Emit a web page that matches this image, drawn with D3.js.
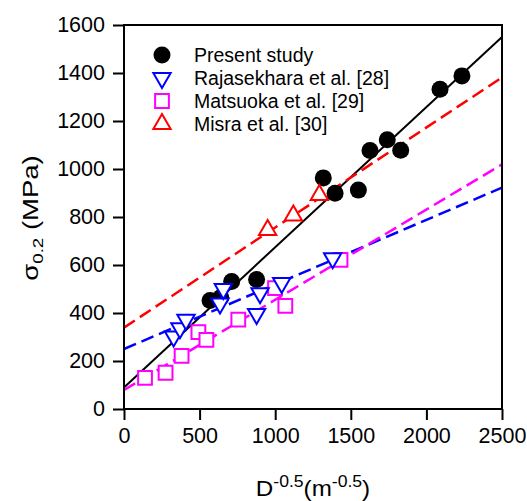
<!DOCTYPE html>
<html>
<head>
<meta charset="utf-8">
<script src="https://cdn.jsdelivr.net/npm/d3@7"></script>
<style>
  body { margin: 0; background: #fff; }
  text { font-family: "Liberation Sans", Arial, sans-serif; }
</style>
</head>
<body>
<svg id="chart" width="527" height="501"></svg>
<script>
// values
const presentX = [569, 640, 712, 877, 1318, 1396, 1550, 1627, 1741, 1830, 2090, 2235];
const presentY = [452, 465, 531, 540, 963, 899, 912, 1077, 1122, 1078, 1332, 1388];
const rajaX = [328, 370, 410, 635, 657, 877, 900, 1043, 1380];
const rajaY = [302, 336, 372, 440, 500, 396, 482, 525, 628];
const matsX = [139, 275, 381, 492, 545, 756, 999, 1067, 1432];
const matsY = [130, 151, 221, 320, 288, 372, 504, 430, 621];
const misraX = [950, 1120, 1292];
const misraY = [746, 806, 892];

// fitted lines: intercept and slope per series
const seriesNames = ["Present study", "Rajasekhara et al. [28]", "Matsuoka et al. [29]", "Misra et al. [30]"];
const fitIntercept = [90, 250, 79, 339];
const fitSlope = [0.584, 0.269, 0.376, 0.417];

const xTicks = [0, 500, 1000, 1500, 2000, 2500];
const yTicks = [0, 200, 400, 600, 800, 1000, 1200, 1400, 1600];

const colors = ["#000000", "#0000ff", "#ff00ff", "#ff0000"];

const svg = d3.select("#chart");
const margin = {left: 124, top: 25, right: 25, bottom: 92};
const width = 527 - margin.left - margin.right;
const height = 501 - margin.top - margin.bottom;

const x = d3.scaleLinear().domain([0, 2500]).range([0, width]);
const y = d3.scaleLinear().domain([0, 1600]).range([height, 0]);

const g = svg.append("g").attr("transform", `translate(${margin.left},${margin.top})`);

// fit lines
const lineGen = d3.line().x(d => x(d[0])).y(d => y(d[1]));
fitIntercept.forEach((b, i) => {
    g.append("path")
        .datum([[0, b], [2500, b + fitSlope[i] * 2500]])
        .attr("d", lineGen)
        .attr("fill", "none")
        .attr("stroke", colors[i])
        .attr("stroke-width", i === 0 ? 2 : 2.5)
        .attr("stroke-dasharray", i === 0 ? null : "13,6");
});

// marker shapes
const circleSym = d3.symbol().type(d3.symbolCircle).size(Math.PI * 8.5 * 8.5);
const triSym = d3.symbol().type(d3.symbolTriangle).size(130);
const sqSym = d3.symbol().type(d3.symbolSquare).size(190);

function drawMarkers(xs, ys, sym, color, rot, filled) {
    g.append("g").selectAll("path")
        .data(xs.map((v, i) => [v, ys[i]]))
        .enter()
        .append("path")
        .attr("d", sym)
        .attr("transform", d => `translate(${x(d[0])},${y(d[1])}) rotate(${rot})`)
        .attr("fill", filled ? color : "#fff")
        .attr("stroke", color)
        .attr("stroke-width", filled ? 0 : 2);
}

drawMarkers(presentX, presentY, circleSym, colors[0], 0, true);
drawMarkers(matsX, matsY, sqSym, colors[2], 0, false);
drawMarkers(rajaX, rajaY, triSym, colors[1], 180, false);
drawMarkers(misraX, misraY, triSym, colors[3], 0, false);

// frame
g.append("rect")
    .attr("width", width).attr("height", height)
    .attr("fill", "none").attr("stroke", "#000").attr("stroke-width", 2);

// axes
const xAxis = g.append("g")
    .attr("transform", `translate(0,${height})`)
    .call(d3.axisBottom(x).tickValues(xTicks).tickSize(11).tickPadding(8).tickFormat(d3.format("d")));
const yAxis = g.append("g")
    .call(d3.axisLeft(y).tickValues(yTicks).tickSize(11).tickPadding(8).tickFormat(d3.format("d")));
[xAxis, yAxis].forEach(a => {
    a.select(".domain").remove();
    a.selectAll("line").attr("stroke", "#000").attr("stroke-width", 2);
    a.selectAll("text").attr("font-size", 21.5).attr("fill", "#000")
        .style("font-family", "'Liberation Sans', Arial, sans-serif");
});

// axis titles (stretched along their length like the original)
const xt = svg.append("text")
    .attr("transform", "translate(313,496) scale(1.1,1)")
    .attr("text-anchor", "middle")
    .attr("font-size", 22);
xt.append("tspan").text("D");
xt.append("tspan").attr("font-size", 16).attr("dy", -9).text("-0.5");
xt.append("tspan").attr("dy", 9).text("(m");
xt.append("tspan").attr("font-size", 16).attr("dy", -9).text("-0.5");
xt.append("tspan").attr("dy", 9).text(")");

const yt = svg.append("text")
    .attr("transform", "translate(38,218) rotate(-90) scale(1.25,1)")
    .attr("text-anchor", "middle")
    .attr("font-size", 22);
yt.append("tspan").text("σ");
yt.append("tspan").attr("font-size", 15).attr("dy", 5).text("0.2");
yt.append("tspan").attr("dy", -5).text(" (MPa)");

// legend
const legendSyms = [circleSym, triSym, sqSym, triSym];
const legendRot = [0, 180, 0, 0];
const legend = svg.append("g");
seriesNames.forEach((name, i) => {
    const ly = 55 + i * 23;
    legend.append("path")
        .attr("d", legendSyms[i])
        .attr("transform", `translate(162,${ly}) rotate(${legendRot[i]})`)
        .attr("fill", i === 0 ? colors[0] : "#fff")
        .attr("stroke", colors[i])
        .attr("stroke-width", i === 0 ? 0 : 2);
    legend.append("text")
        .attr("x", 194).attr("y", ly + 7)
        .attr("font-size", 19.5)
        .attr("fill", "#000")
        .text(name);
});
</script>
</body>
</html>
